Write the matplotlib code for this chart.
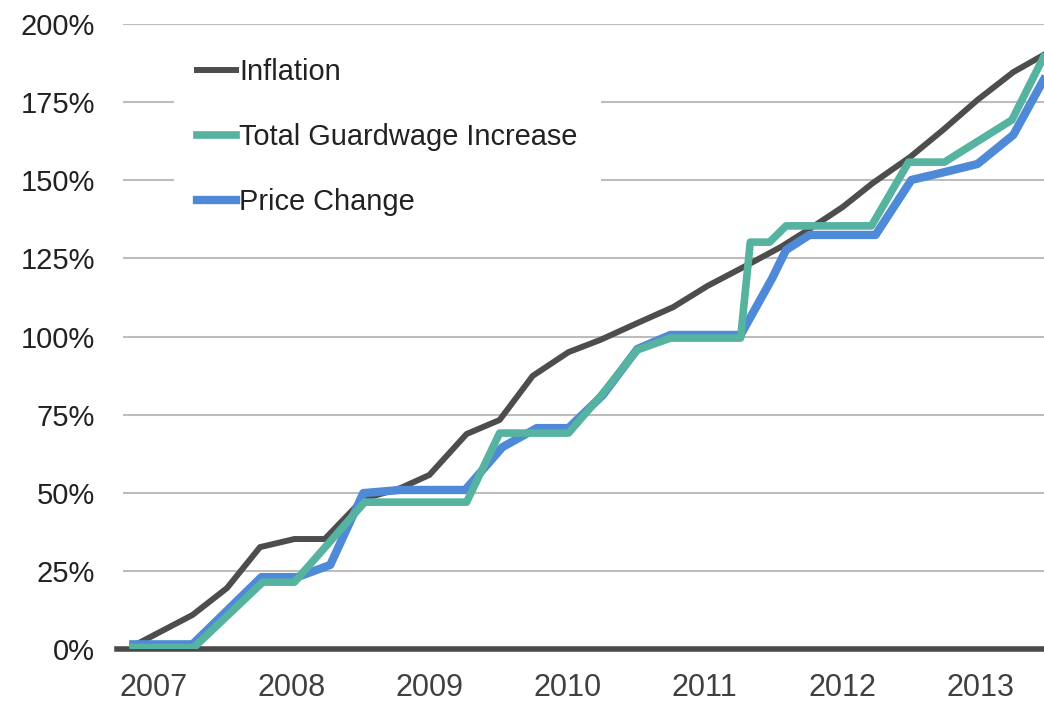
import matplotlib
matplotlib.use('Agg')
import matplotlib.pyplot as plt

plt.rcParams['font.family'] = ['Liberation Sans', 'DejaVu Sans']

# Inflation, quarterly (fractional years, cumulative %)
infl_x = [2006.85, 2007.28, 2007.53, 2007.77, 2008.02, 2008.24, 2008.52, 2008.79,
          2009.00, 2009.27, 2009.51, 2009.75, 2010.01, 2010.24, 2010.51, 2010.77,
          2011.02, 2011.28, 2011.55, 2011.76, 2012.00, 2012.22, 2012.49, 2012.73,
          2012.98, 2013.24, 2013.46]
infl_y = [1, 10.9, 19.5, 32.6, 35.2, 35.2, 48.0, 51.5,
          55.7, 68.8, 73.3, 87.4, 95.0, 98.9, 104.3, 109.4,
          116.2, 122.2, 128.6, 134.4, 141.4, 149.1, 157.4, 166.1,
          175.7, 184.6, 190.1]

# Price change
price_x = [2006.85, 2007.28, 2007.78, 2008.04, 2008.28, 2008.52, 2008.79, 2009.26,
           2009.53, 2009.78, 2010.01, 2010.26, 2010.51, 2010.75, 2011.26, 2011.49,
           2011.59, 2011.76, 2012.24, 2012.50, 2012.74, 2012.98, 2013.24, 2013.46]
price_y = [1.5, 1.5, 23.0, 23.0, 26.9, 49.9, 50.9, 50.9,
           64.6, 70.7, 70.7, 81.3, 96.0, 100.5, 100.5, 118.7,
           127.7, 132.5, 132.5, 150.1, 152.6, 155.2, 164.5, 182.1]

# Total guardwage increase
wage_x = [2006.85, 2007.29, 2007.79, 2008.02, 2008.53, 2009.27, 2009.51, 2010.01,
          2010.25, 2010.51, 2010.75, 2011.26, 2011.33, 2011.47, 2011.59, 2012.21,
          2012.48, 2012.74, 2013.23, 2013.46]
wage_y = [0.5, 0.5, 21.4, 21.4, 47.0, 47.0, 69.1, 69.1,
          81.3, 95.7, 99.5, 99.5, 130.2, 130.2, 135.4, 135.4,
          155.8, 155.8, 169.3, 189.4]

years = [2007, 2008, 2009, 2010, 2011, 2012, 2013]
y_ticks = [0, 25, 50, 75, 100, 125, 150, 175, 200]

fig = plt.figure(figsize=(10.44, 7.06), dpi=100)
ax = fig.add_axes([0.1178, 0.0807, 0.8822, 0.8853])

ax.plot(infl_x, infl_y, color='#4d4d4d', lw=4.3, label='Inflation', zorder=3)
ax.plot(price_x, price_y, color='#4e8ad8', lw=6, label='Price Change', zorder=4)
ax.plot(wage_x, wage_y, color='#55b3a0', lw=5.5, label='Total Guardwage Increase', zorder=5)

ax.axhline(0, xmin=-0.006, xmax=1, color='#4a4a4a', lw=4, clip_on=False, zorder=2)

ax.set_xlim(2006.775, 2013.463)
ax.set_ylim(0, 200)
ax.set_yticks(y_ticks)
ax.set_yticklabels([f'{v}%' for v in y_ticks])
ax.set_xticks(years)
ax.set_xticklabels([str(y) for y in years])
ax.grid(axis='y', color='#bdbdbd', lw=1.5, zorder=0)
ax.set_axisbelow(True)
for s in ax.spines.values():
    s.set_visible(False)
ax.tick_params(axis='y', length=0, pad=20, labelsize=21, labelcolor='#222222')
ax.tick_params(axis='x', length=0, pad=17, labelsize=22, labelcolor='#404040')

# legend order as in the picture
h, l = ax.get_legend_handles_labels()
order = [0, 2, 1]
leg = ax.legend([h[i] for i in order], [l[i] for i in order],
                loc='upper left', bbox_to_anchor=(0.0554, 0.983), borderaxespad=0,
                fontsize=20.9, handlelength=1.35, handletextpad=0.1, labelspacing=1.28,
                borderpad=0.8, frameon=True, facecolor='white', edgecolor='none',
                framealpha=1, fancybox=False)
for t in leg.get_texts():
    t.set_color('#222222')

fig.savefig('out.png', dpi=100)
